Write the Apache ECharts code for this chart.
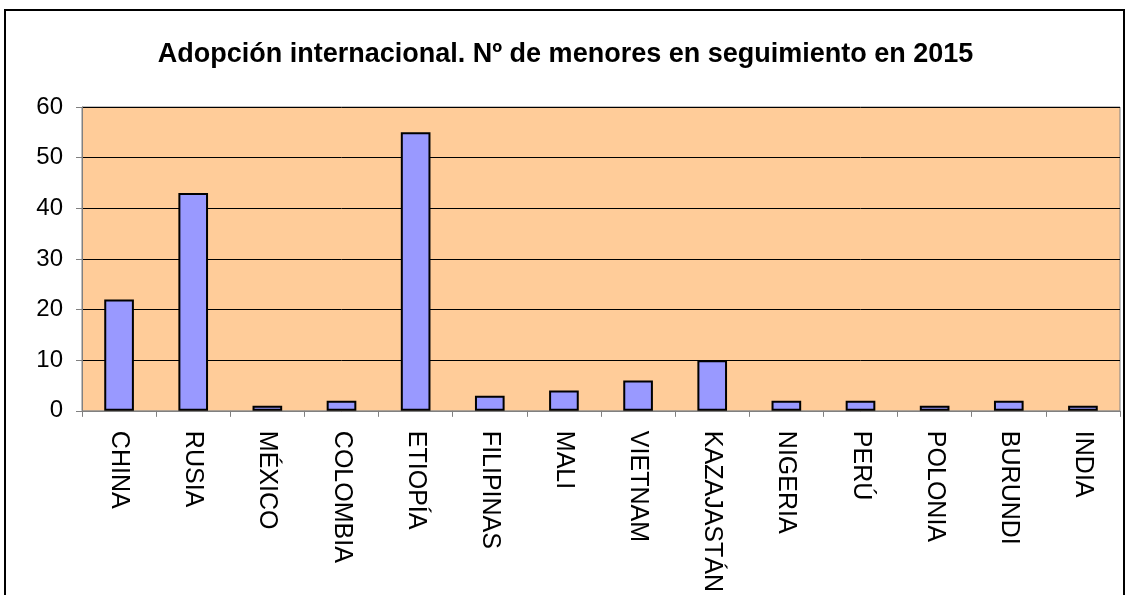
<!DOCTYPE html>
<html><head><meta charset="utf-8">
<script src="https://cdn.jsdelivr.net/npm/echarts@6/dist/echarts.min.js"></script>
<style>html,body{margin:0;padding:0;background:#fff}#c{width:1131px;height:595px}</style>
</head><body><div id="c"></div>
<script>
const titleText = "Adopción internacional. Nº de menores en seguimiento en 2015";
const categories = ["CHINA","RUSIA","MÉXICO","COLOMBIA","ETIOPÍA","FILIPINAS","MALI","VIETNAM","KAZAJASTÁN","NIGERIA","PERÚ","POLONIA","BURUNDI","INDIA"];
const values = [22,43,1,2,55,3,4,6,10,2,2,1,2,1];
const yTicks = [0,10,20,30,40,50,60];

const chart = echarts.init(document.getElementById('c'), null, {renderer:'canvas'});
chart.setOption({
  animation:false,
  backgroundColor:'#fff',
  title:{text:titleText,left:'center',top:36,textStyle:{fontFamily:'Liberation Sans, Arial',fontWeight:'bold',fontSize:27,color:'#000'}},
  graphic:[{type:'rect',shape:{x:5,y:10,width:1119,height:600},style:{fill:'none',stroke:'#000',lineWidth:2},silent:true}],
  grid:{left:82,right:11,top:107,bottom:182,show:true,backgroundColor:'#FFCC99',borderColor:'#808080',borderWidth:1},
  xAxis:{type:'category',data:categories,
    axisLine:{lineStyle:{color:'#808080',width:1}},
    axisTick:{show:true,alignWithLabel:false,length:6,lineStyle:{color:'#808080'}},
    axisLabel:{rotate:-90,interval:0,margin:20,fontFamily:'Liberation Sans, Arial',fontSize:25,color:'#000'}},
  yAxis:{type:'value',min:yTicks[0],max:yTicks[yTicks.length-1],interval:10,
    axisLine:{show:true,lineStyle:{color:'#808080'}},
    axisTick:{show:true,length:6,lineStyle:{color:'#808080'}},
    axisLabel:{margin:19,fontFamily:'Liberation Sans, Arial',fontSize:24,color:'#000'},
    splitLine:{lineStyle:{color:'#000',width:1}}},
  series:[{type:'bar',data:values,barWidth:'40%',
    itemStyle:{color:'#9999FF',borderColor:'#000',borderWidth:2}}]
});
</script></body></html>
